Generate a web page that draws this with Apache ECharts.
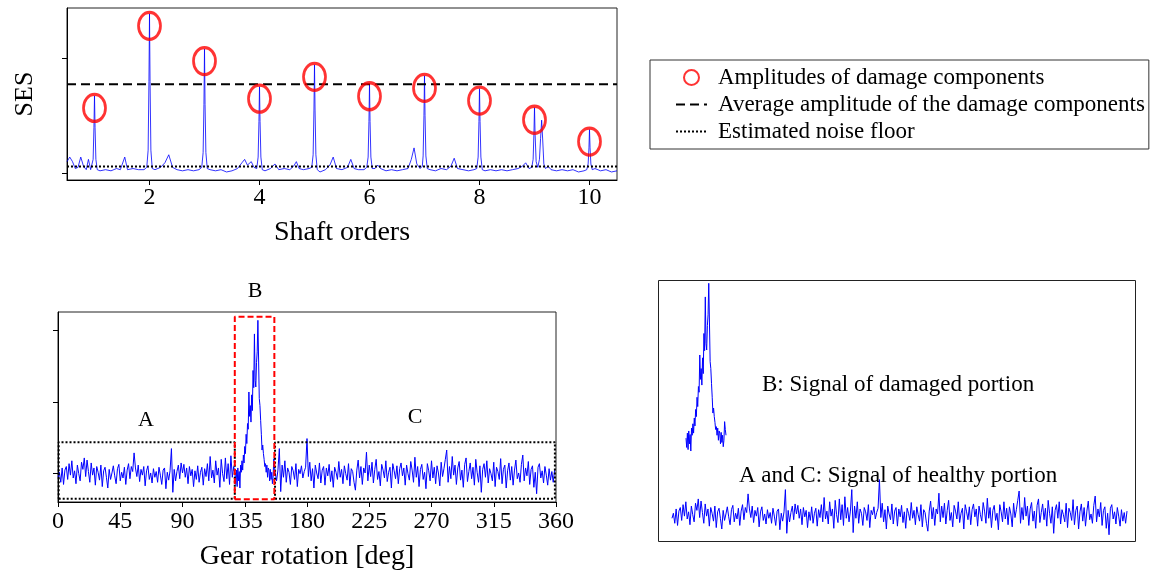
<!DOCTYPE html>
<html><head><meta charset="utf-8">
<script src="https://cdn.jsdelivr.net/npm/echarts@6/dist/echarts.min.js"></script>
<style>html,body{margin:0;padding:0;background:#fff}#c{width:1155px;height:576px}</style>
</head><body><div id="c"></div>
<script>
// ---------- Top panel: squared envelope spectrum ----------
const sesSpectrum = [
 [0.50,0.10],[0.55,0.14],[0.60,0.10],[0.65,0.04],[0.70,0.05],[0.75,0.14],[0.80,0.06],[0.85,0.03],[0.89,0.12],[0.93,0.03],[0.96,0.04],
 [0.975,0.12],[0.99,0.40],[1.00,0.673],[1.01,0.40],[1.025,0.12],[1.05,0.03],
 [1.10,0.02],[1.20,0.03],[1.30,0.02],[1.40,0.04],[1.47,0.03],[1.55,0.14],[1.60,0.03],[1.70,0.04],[1.80,0.03],[1.90,0.03],[1.95,0.05],
 [1.975,0.20],[1.99,0.80],[2.00,1.389],[2.01,0.80],[2.025,0.20],[2.05,0.04],
 [2.10,0.03],[2.20,0.05],[2.28,0.09],[2.35,0.16],[2.42,0.05],[2.50,0.03],[2.60,0.02],[2.70,0.03],[2.80,0.02],[2.90,0.03],[2.95,0.05],
 [2.975,0.18],[2.99,0.60],[3.00,1.082],[3.01,0.60],[3.025,0.18],[3.05,0.04],
 [3.10,0.03],[3.20,0.02],[3.30,0.03],[3.40,0.01],[3.50,0.02],[3.60,0.04],[3.68,0.09],[3.73,0.12],[3.78,0.07],[3.85,0.10],[3.90,0.05],[3.95,0.04],
 [3.975,0.14],[3.99,0.45],[4.00,0.754],[4.01,0.45],[4.025,0.14],[4.05,0.03],
 [4.10,0.02],[4.20,0.04],[4.28,0.08],[4.35,0.03],[4.45,0.04],[4.55,0.03],[4.62,0.06],[4.67,0.10],[4.72,0.04],[4.80,0.03],[4.90,0.04],[4.95,0.05],
 [4.975,0.16],[4.99,0.55],[5.00,0.944],[5.01,0.55],[5.025,0.16],[5.05,0.03],
 [5.10,0.01],[5.20,0.03],[5.28,0.07],[5.34,0.14],[5.40,0.04],[5.50,0.03],[5.60,0.05],[5.66,0.12],[5.72,0.04],[5.80,0.03],[5.90,0.03],[5.95,0.05],
 [5.975,0.14],[5.99,0.45],[6.00,0.775],[6.01,0.45],[6.025,0.14],[6.05,0.04],
 [6.10,0.04],[6.15,0.07],[6.20,0.04],[6.30,0.02],[6.40,0.03],[6.50,0.02],[6.60,0.03],[6.70,0.04],[6.76,0.12],[6.81,0.22],[6.86,0.08],[6.92,0.04],[6.96,0.06],
 [6.975,0.15],[6.99,0.50],[7.00,0.848],[7.01,0.50],[7.025,0.15],[7.05,0.04],
 [7.10,0.03],[7.20,0.02],[7.30,0.04],[7.40,0.03],[7.48,0.06],[7.54,0.13],[7.60,0.04],[7.70,0.03],[7.80,0.02],[7.90,0.03],[7.95,0.04],
 [7.975,0.14],[7.99,0.45],[8.00,0.737],[8.01,0.45],[8.025,0.14],[8.05,0.03],
 [8.10,0.02],[8.20,0.03],[8.30,0.02],[8.40,0.03],[8.50,0.02],[8.60,0.03],[8.70,0.04],[8.78,0.06],[8.84,0.09],[8.90,0.04],[8.95,0.05],
 [8.975,0.12],[8.99,0.35],[9.00,0.570],[9.01,0.35],[9.03,0.10],[9.06,0.05],[9.09,0.12],[9.11,0.30],[9.13,0.462],[9.15,0.28],[9.17,0.08],[9.20,0.04],
 [9.25,0.06],[9.30,0.03],[9.40,0.02],[9.50,0.03],[9.60,0.02],[9.70,0.03],[9.80,0.01],[9.90,0.02],[9.95,0.03],
 [9.975,0.08],[9.99,0.22],[10.00,0.380],[10.01,0.22],[10.025,0.08],[10.05,0.03],
 [10.10,0.04],[10.20,0.02],[10.30,0.03],[10.40,0.01],[10.50,0.02]
];
const peakOrder = [1,2,3,4,5,6,7,8,9,10];
const peakAmp   = [0.673,1.389,1.082,0.754,0.944,0.775,0.848,0.737,0.570,0.380];
const avgAmp = 0.775;
const noiseFloor = 0.058;
const shaftTicks = [2,4,6,8,10];
const sesTicks = [0,1];

// ---------- Bottom panel: signal over one gear rotation ----------
// A: 0..127 deg (1 deg step)
const gearA = [
 -0.05,0.02,-0.12,0.08,-0.15,0.05,0.10,-0.08,0.14,-0.02,
 0.18,-0.06,0.04,-0.14,0.12,0.00,-0.10,0.16,0.06,0.22,
 -0.04,0.19,0.03,-0.12,0.15,-0.02,0.08,-0.16,0.10,0.02,
 -0.09,0.12,-0.18,0.04,0.09,-0.05,-0.20,0.06,-0.08,0.01,
 0.11,-0.03,-0.14,0.07,0.13,-0.10,0.02,-0.06,0.09,-0.15,
 0.05,0.14,-0.07,0.10,0.03,0.29,0.08,-0.04,0.12,-0.11,
 0.06,-0.02,0.10,-0.17,0.04,0.11,-0.08,0.01,-0.13,0.07,
 -0.05,0.03,-0.12,0.09,-0.02,-0.15,0.05,0.08,-0.21,0.02,
 -0.09,0.04,0.35,-0.26,0.06,-0.10,0.03,0.12,-0.07,0.15,
 0.01,0.13,-0.05,0.08,-0.14,0.10,-0.03,0.06,-0.18,0.04,
 -0.08,0.11,-0.12,0.02,0.09,-0.16,0.07,-0.04,0.14,-0.10,
 0.24,-0.06,0.05,-0.13,0.18,-0.02,0.08,-0.19,0.20,0.00,
 -0.11,0.22,-0.07,0.14,-0.15,0.25,-0.05,0.10
];
// B: 128..157 deg (0.5 deg step), damaged portion
const gearB = [
 -0.02,-0.15,0.05,-0.18,0.08,-0.10,0.03,-0.20,0.12,0.02,
 0.18,0.05,0.26,0.15,0.38,0.28,0.55,0.42,0.70,0.62,
 1.14,0.80,0.95,0.72,1.10,0.88,1.44,1.20,1.95,1.30,
 1.21,1.55,1.70,2.14,1.60,1.05,0.95,0.74,0.55,0.33,
 0.40,0.28,0.20,0.10,0.14,0.02,0.12,-0.05,0.08,0.05,
 -0.10,0.06,-0.08,0.02,-0.14,-0.05,0.21,0.10,0.02
];
// C: 158..359 deg (1 deg step)
const gearC = [
 -0.10,0.05,0.35,-0.25,0.12,-0.05,0.18,-0.12,0.08,0.02,
 -0.15,0.10,0.04,-0.08,0.14,-0.18,0.06,0.00,0.11,-0.06,
 0.03,0.09,0.49,-0.04,0.16,-0.10,0.07,-0.20,0.12,0.01,
 -0.07,0.15,-0.13,0.05,0.10,-0.16,0.08,-0.03,0.13,-0.11,
 0.04,-0.19,0.09,0.02,-0.08,0.17,-0.05,0.06,-0.14,0.11,
 0.00,-0.09,0.14,-0.17,0.07,0.03,-0.12,-0.23,0.05,0.19,
 -0.06,0.10,-0.15,0.08,0.01,0.30,-0.10,0.12,-0.04,0.16,
 -0.13,0.06,0.20,-0.08,0.03,-0.17,0.13,0.05,-0.06,0.18,
 -0.11,0.02,0.09,-0.20,0.14,0.04,-0.07,0.11,-0.14,0.07,
 0.15,-0.03,0.08,-0.16,0.12,0.00,-0.09,0.17,0.05,-0.12,
 0.23,-0.05,0.10,-0.18,0.06,0.13,-0.08,0.02,-0.21,0.14,
 0.04,-0.10,0.18,-0.06,0.09,-0.14,0.11,0.01,-0.17,0.16,
 -0.04,0.07,0.20,0.33,-0.12,0.10,-0.07,0.24,-0.02,0.12,
 -0.15,0.08,0.17,-0.09,0.05,-0.19,0.13,0.22,-0.11,0.03,
 0.15,-0.07,0.09,-0.16,0.20,0.02,-0.12,0.11,-0.26,0.06,
 0.14,-0.05,0.18,-0.13,0.07,0.00,-0.10,0.16,-0.18,0.09,
 0.03,-0.08,0.21,-0.14,0.06,0.12,-0.20,0.04,0.15,-0.09,
 0.10,-0.16,0.05,0.19,-0.07,0.01,-0.12,0.13,0.26,-0.10,
 0.08,-0.03,0.17,-0.15,0.06,0.11,-0.19,0.02,-0.28,0.09,
 0.14,-0.06,0.04,-0.13,0.10,-0.02,-0.16,0.07,-0.09,0.03,
 -0.12,0.05
];
const gearTicks = [0,45,90,135,180,225,270,315,360];
const gearYTicks = [0,1,2];
// region boxes [xStart, xEnd, yLow, yHigh]
const regionA = [0.5,127.8,-0.35,0.44];
const regionB = [127.8,156.4,-0.358,2.19];
const regionC = [156.9,359.2,-0.35,0.44];

// ---------- build series data ----------
const startA = 0, startB = 128, stepB = 0.5, startC = 158;
const segA = gearA.map((v,i)=>[startA+i, v]);
const segB = gearB.map((v,i)=>[startB+i*stepB, v]);
const segC = gearC.map((v,i)=>[startC+i, v]);
const gearSignal = segA.concat(segB, segC);
const healthy = gearA.concat(gearC).map((v,i)=>[i, v]);
const boxPath = r => [[r[0],r[2]],[r[1],r[2]],[r[1],r[3]],[r[0],r[3]],[r[0],r[2]]];

const FONT = '"Liberation Serif", "DejaVu Serif", serif';
const BLUE = '#0000ff';
const axisLineStyle = {onZero:false, lineStyle:{color:'#000', width:1}};
const hiddenAxis = {show:false};

const chart = echarts.init(document.getElementById('c'), null, {renderer:'canvas'});
chart.setOption({
  animation:false,
  backgroundColor:'#fff',
  textStyle:{fontFamily:FONT},
  legend:{
    orient:'vertical', left:650, top:60,
    data:[
      {name:'Amplitudes of damage components'},
      {name:'Average amplitude of the damage components', itemStyle:{opacity:0}},
      {name:'Estimated noise floor', itemStyle:{opacity:0}}
    ],
    borderColor:'#333', borderWidth:1, padding:[6,4,6,25],
    itemWidth:31, itemHeight:15, itemGap:4,
    textStyle:{fontFamily:FONT, fontSize:23, lineHeight:23, color:'#000', padding:[0,0,0,6]}
  },
  grid:[
    {left:67, top:8, width:550, height:172, show:true, borderColor:'#222', borderWidth:1, backgroundColor:'transparent'},
    {left:58, top:312, width:498, height:190, show:true, borderColor:'#222', borderWidth:1, backgroundColor:'transparent'},
    {left:686, top:275, width:40, height:190, show:false},
    {left:672, top:353, width:455, height:190, show:false}
  ],
  xAxis:[
    {gridIndex:0, type:'value', min:0.5, max:10.5,
     axisLine:axisLineStyle, splitLine:{show:false},
     axisTick:{customValues:shaftTicks, length:5, lineStyle:{color:'#000'}},
     axisLabel:{customValues:shaftTicks, fontSize:24, fontFamily:FONT, color:'#000', margin:6},
     name:'Shaft orders', nameLocation:'middle', nameGap:39,
     nameTextStyle:{fontSize:28, fontFamily:FONT, color:'#000'}},
    {gridIndex:1, type:'value', min:0, max:360, interval:45,
     axisLine:axisLineStyle, splitLine:{show:false},
     axisTick:{length:5, lineStyle:{color:'#000'}},
     axisLabel:{fontSize:24, fontFamily:FONT, color:'#000', margin:8, showMinLabel:true, showMaxLabel:true},
     name:'Gear rotation [deg]', nameLocation:'middle', nameGap:41,
     nameTextStyle:{fontSize:28, fontFamily:FONT, color:'#000'}},
    Object.assign({gridIndex:2, type:'value', min:128, max:157}, hiddenAxis),
    Object.assign({gridIndex:3, type:'value', min:0, max:329}, hiddenAxis)
  ],
  yAxis:[
    {gridIndex:0, type:'value', min:-0.06, max:1.44,
     axisLine:axisLineStyle, splitLine:{show:false},
     axisTick:{customValues:sesTicks, length:5, lineStyle:{color:'#000'}},
     axisLabel:{show:false},
     name:'SES', nameLocation:'middle', nameGap:29,
     nameTextStyle:{fontSize:26, fontFamily:FONT, color:'#000'}},
    {gridIndex:1, type:'value', min:-0.395, max:2.256,
     axisLine:axisLineStyle, splitLine:{show:false},
     axisTick:{customValues:gearYTicks, length:5, lineStyle:{color:'#000'}},
     axisLabel:{show:false}},
    Object.assign({gridIndex:2, type:'value', min:-0.395, max:2.256}, hiddenAxis),
    Object.assign({gridIndex:3, type:'value', min:-0.395, max:2.256}, hiddenAxis)
  ],
  series:[
    {type:'line', name:'SES', xAxisIndex:0, yAxisIndex:0, data:sesSpectrum, symbol:'none',
     lineStyle:{color:BLUE, width:0.8}, z:2},
    {type:'line', name:'Average amplitude of the damage components', xAxisIndex:0, yAxisIndex:0,
     data:[[0.5,avgAmp],[10.5,avgAmp]], symbol:'none',
     lineStyle:{color:'#000', width:2, type:[9,5]}, itemStyle:{color:'#000'}, z:3},
    {type:'line', name:'Estimated noise floor', xAxisIndex:0, yAxisIndex:0,
     data:[[0.5,noiseFloor],[10.5,noiseFloor]], symbol:'none',
     lineStyle:{color:'#000', width:2, type:[2,2]}, itemStyle:{color:'#000'}, z:3},
    {type:'scatter', name:'Amplitudes of damage components', xAxisIndex:0, yAxisIndex:0,
     data:peakOrder.map((o,i)=>[o, peakAmp[i]]),
     symbol:'circle', symbolSize:[22,27], symbolOffset:[0,12],
     itemStyle:{color:'transparent', borderColor:'#ff0000', borderWidth:3}, z:4},

    {type:'line', name:'signal', xAxisIndex:1, yAxisIndex:1, data:gearSignal, symbol:'none',
     lineStyle:{color:BLUE, width:1}, z:2},
    {type:'line', name:'boxA', xAxisIndex:1, yAxisIndex:1, data:boxPath(regionA), symbol:'none',
     lineStyle:{color:'#000', width:2, type:[2,2]}, z:3},
    {type:'line', name:'boxC', xAxisIndex:1, yAxisIndex:1, data:boxPath(regionC), symbol:'none',
     lineStyle:{color:'#000', width:2, type:[2,2]}, z:3},
    {type:'line', name:'boxB', xAxisIndex:1, yAxisIndex:1, data:boxPath(regionB), symbol:'none',
     lineStyle:{color:'#ff0000', width:2, type:[6,3]}, z:4},

    {type:'line', name:'damaged', xAxisIndex:2, yAxisIndex:2, data:segB, symbol:'none',
     lineStyle:{color:BLUE, width:1}},
    {type:'line', name:'healthy', xAxisIndex:3, yAxisIndex:3, data:healthy, symbol:'none',
     lineStyle:{color:BLUE, width:1}}
  ],
  graphic:[
    {type:'text', x:255, y:291, style:{text:'B', font:'22px '+FONT, fill:'#000', align:'center', verticalAlign:'middle'}},
    {type:'text', x:146, y:420, style:{text:'A', font:'22px '+FONT, fill:'#000', align:'center', verticalAlign:'middle'}},
    {type:'text', x:415, y:417, style:{text:'C', font:'22px '+FONT, fill:'#000', align:'center', verticalAlign:'middle'}},
    {type:'rect', shape:{x:658.5, y:280.5, width:477, height:261}, style:{fill:'none', stroke:'#222', lineWidth:1}},
    {type:'text', x:762, y:385, style:{text:'B: Signal of damaged portion', font:'23px '+FONT, fill:'#000', align:'left', verticalAlign:'middle'}},
    {type:'text', x:739, y:476, style:{text:'A and C: Signal of healthy portion', font:'23px '+FONT, fill:'#000', align:'left', verticalAlign:'middle'}}
  ]
});
</script></body></html>
